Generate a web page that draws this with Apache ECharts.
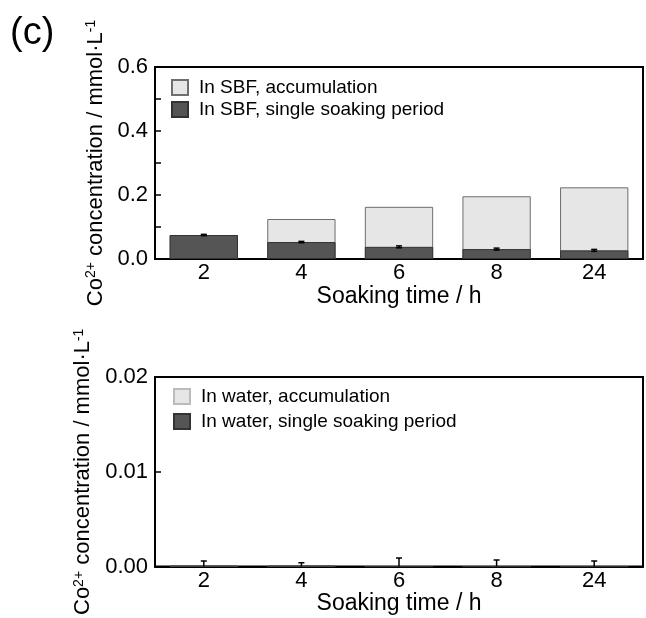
<!DOCTYPE html>
<html>
<head>
<meta charset="utf-8">
<script src="https://cdn.jsdelivr.net/npm/echarts@6/dist/echarts.min.js"></script>
<style>
  html, body { margin: 0; padding: 0; background: #fff; }
  #myChart { width: 646px; height: 618px; }
</style>
</head>
<body>
<div id="myChart"></div>
<script>
// soaking time categories
var times = ['2', '4', '6', '8', '24'];

// SBF (top panel), mmol/L
var sbfAccum = [0.075, 0.125, 0.163, 0.196, 0.224];
var sbfSingle = [0.075, 0.053, 0.038, 0.031, 0.027];
var sbfErr = [0.002, 0.002, 0.003, 0.003, 0.003];

// water (bottom panel), mmol/L
var waterAccum = [0.0001, 0.0001, null, null, null];
var waterSingle = [0.0001, 0.0001, 0, 0, 0];
var waterErr = [0.0005, 0.0003, 0.0009, 0.0007, 0.0006];

var font = 'Liberation Sans, Arial, sans-serif';
var lightColor = '#e6e6e6';
var darkColor = '#555555';

function errData(vals, errs) {
    var out = [];
    for (var i = 0; i < vals.length; i++) {
        out.push([i, vals[i], errs[i]]);
    }
    return out;
}

function renderErr(params, api) {
    var x = api.value(0);
    var y = api.value(1);
    var e = api.value(2);
    var lo = api.coord([x, y - e]);
    var hi = api.coord([x, y + e]);
    var w = 3;
    var st = { stroke: '#000', lineWidth: 1.5 };
    return {
        type: 'group',
        children: [
            { type: 'line', shape: { x1: hi[0], y1: lo[1], x2: hi[0], y2: hi[1] }, style: st },
            { type: 'line', shape: { x1: hi[0] - w, y1: hi[1], x2: hi[0] + w, y2: hi[1] }, style: st },
            { type: 'line', shape: { x1: lo[0] - w, y1: lo[1], x2: lo[0] + w, y2: lo[1] }, style: st }
        ]
    };
}

var yName = '{n|Co}{s|2+}{n| concentration / mmol·L}{s|-1}';
var yNameStyle = {
    fontFamily: font,
    color: '#000',
    rich: {
        n: { fontSize: 22, fontFamily: font, color: '#000', verticalAlign: 'bottom' },
        s: { fontSize: 14, fontFamily: font, color: '#000', verticalAlign: 'top' }
    }
};

function xAxisOf(idx) {
    return {
        type: 'category',
        gridIndex: idx,
        data: times,
        name: 'Soaking time / h',
        nameLocation: 'middle',
        nameGap: 24,
        nameTextStyle: { fontSize: 23, fontFamily: font, color: '#000' },
        axisLine: { lineStyle: { color: '#000', width: 2 } },
        axisTick: { show: false },
        axisLabel: { fontSize: 22, fontFamily: font, color: '#000', margin: 3 }
    };
}

var myChart = echarts.init(document.getElementById('myChart'));

myChart.setOption({
    backgroundColor: '#fff',
    animation: false,
    graphic: [
        { type: 'text', left: 10, top: 15, style: { text: '(c)', fontSize: 38, fontFamily: font, fill: '#000' } }
    ],
    legend: [
        {
            data: ['In SBF, accumulation', 'In SBF, single soaking period'],
            orient: 'vertical',
            left: 171, top: 78, padding: 0,
            itemWidth: 16, itemHeight: 15, itemGap: 3,
            icon: 'rect',
            textStyle: { fontSize: 19, fontFamily: font, color: '#000', padding: [0, 0, 0, 6] }
        },
        {
            data: ['In water, accumulation', 'In water, single soaking period'],
            orient: 'vertical',
            left: 173, top: 387, padding: 0,
            itemWidth: 16, itemHeight: 15, itemGap: 6,
            icon: 'rect',
            textStyle: { fontSize: 19, fontFamily: font, color: '#000', padding: [0, 0, 0, 6] }
        }
    ],
    grid: [
        { left: 155, top: 67, width: 488, height: 192, show: true, borderColor: '#000', borderWidth: 2, containLabel: false },
        { left: 155, top: 377, width: 488, height: 191, show: true, borderColor: '#000', borderWidth: 2, containLabel: false }
    ],
    xAxis: [xAxisOf(0), xAxisOf(1)],
    yAxis: [
        {
            type: 'value',
            gridIndex: 0,
            min: 0, max: 0.6, interval: 0.1,
            name: yName,
            nameLocation: 'middle',
            nameGap: 48,
            nameTextStyle: yNameStyle,
            axisLine: { show: true, lineStyle: { color: '#000', width: 2 } },
            axisTick: { show: true, inside: true, length: 6, lineStyle: { color: '#000', width: 1.5 } },
            splitLine: { show: false },
            axisLabel: {
                fontSize: 22, fontFamily: font, color: '#000', margin: 7,
                formatter: function (v) {
                    return Math.round(v * 10) % 2 === 0 ? v.toFixed(1) : '';
                }
            }
        },
        {
            type: 'value',
            gridIndex: 1,
            min: 0, max: 0.02, interval: 0.01,
            name: yName,
            nameLocation: 'middle',
            nameGap: 61,
            nameTextStyle: yNameStyle,
            axisLine: { show: true, lineStyle: { color: '#000', width: 2 } },
            axisTick: { show: true, inside: true, length: 6, lineStyle: { color: '#000', width: 1.5 } },
            splitLine: { show: false },
            axisLabel: {
                fontSize: 22, fontFamily: font, color: '#000', margin: 7,
                formatter: function (v) { return v.toFixed(2); }
            }
        }
    ],
    series: [
        {
            name: 'In SBF, accumulation', type: 'bar', xAxisIndex: 0, yAxisIndex: 0,
            data: sbfAccum, barWidth: '70%', barGap: '-100%',
            itemStyle: { color: lightColor, borderColor: '#6e6e6e', borderWidth: 1 }
        },
        {
            name: 'In SBF, single soaking period', type: 'bar', xAxisIndex: 0, yAxisIndex: 0,
            data: sbfSingle, barWidth: '70%', barGap: '-100%',
            itemStyle: { color: darkColor, borderColor: '#333', borderWidth: 1 }
        },
        {
            type: 'custom', xAxisIndex: 0, yAxisIndex: 0, z: 10, clip: true,
            renderItem: renderErr, data: errData(sbfSingle, sbfErr)
        },
        {
            name: 'In water, accumulation', type: 'bar', xAxisIndex: 1, yAxisIndex: 1,
            data: waterAccum, barWidth: '70%', barGap: '-100%',
            itemStyle: { color: lightColor, borderColor: '#bbbbbb', borderWidth: 1 }
        },
        {
            name: 'In water, single soaking period', type: 'bar', xAxisIndex: 1, yAxisIndex: 1,
            data: waterSingle, barWidth: '70%', barGap: '-100%',
            itemStyle: { color: darkColor, borderColor: '#333', borderWidth: 1 }
        },
        {
            type: 'custom', xAxisIndex: 1, yAxisIndex: 1, z: 10, clip: true,
            renderItem: renderErr, data: errData(waterSingle, waterErr)
        }
    ]
});
</script>
</body>
</html>
